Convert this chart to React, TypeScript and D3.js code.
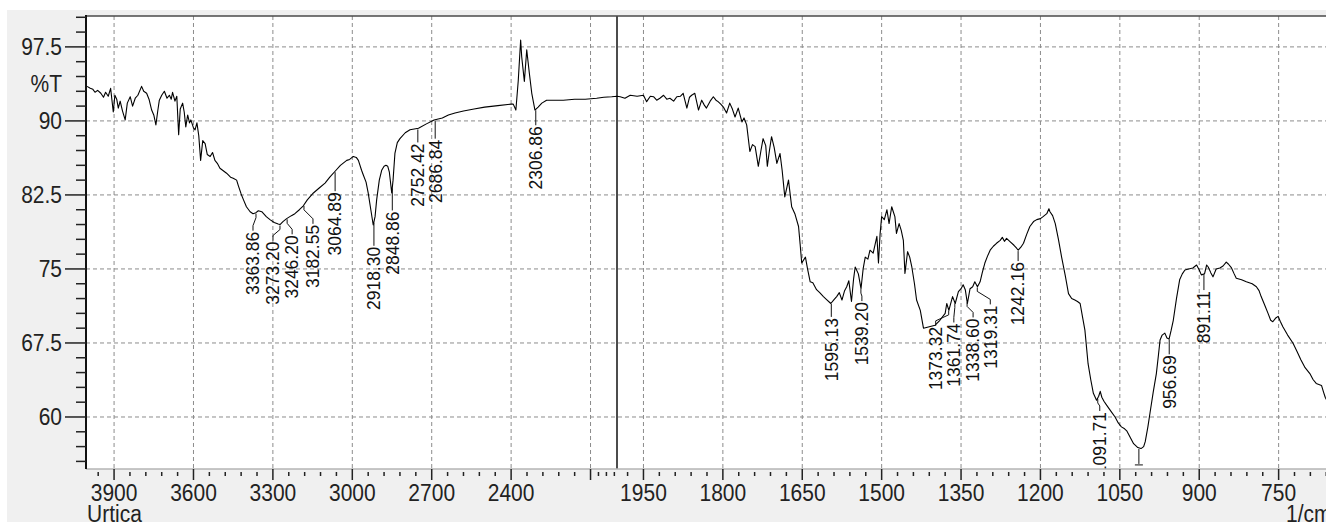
import React from 'react';
import * as d3 from 'd3';

// spectrum: [wavenumber 1/cm, %T]
const spectrum: [number, number][] = [
    [4002, 93.5], [3990, 93.3], [3980, 93.2], [3972, 92.9], [3962, 93.1], [3950, 92.8], [3940, 92.4],
    [3932, 92.9], [3922, 92.5], [3913, 93.3], [3903, 90.9], [3897, 92.6], [3890, 92.2], [3884, 91.3],
    [3877, 92.0], [3868, 91.0], [3858, 90.1], [3850, 91.8], [3839, 92.45], [3830, 91.5], [3820, 92.3],
    [3810, 92.6], [3796, 93.5], [3788, 93.0], [3777, 92.8], [3768, 92.2], [3758, 91.1], [3750, 90.6],
    [3742, 89.6], [3735, 91.0], [3729, 92.1], [3720, 92.6], [3710, 93.0], [3700, 92.3], [3691, 92.6],
    [3684, 92.2], [3679, 92.9], [3670, 92.0], [3663, 92.5], [3656, 88.6], [3650, 91.2], [3641, 91.8],
    [3635, 90.9], [3629, 89.4], [3622, 90.6], [3615, 89.8], [3610, 90.1], [3600, 89.3], [3594, 89.1],
    [3587, 89.8], [3580, 88.5], [3573, 86.0], [3565, 88.0], [3556, 87.7], [3548, 86.6], [3537, 86.4],
    [3528, 86.8], [3519, 86.0], [3510, 85.7], [3500, 85.2], [3490, 85.0], [3475, 84.7], [3460, 84.3],
    [3450, 84.2], [3437, 84.0], [3430, 83.4], [3420, 82.6], [3411, 82.0], [3400, 81.3], [3386, 80.8],
    [3375, 80.6], [3364, 80.7], [3355, 80.9], [3342, 80.8], [3325, 80.3], [3311, 80.0], [3295, 79.7],
    [3280, 79.55], [3273, 79.5], [3262, 79.8], [3248, 80.1], [3230, 80.4], [3217, 80.6], [3200, 81.0],
    [3185, 81.4], [3170, 82.0], [3147, 82.7], [3125, 83.2], [3103, 83.7], [3085, 84.3], [3065, 84.9],
    [3045, 85.5], [3021, 86.0], [3010, 86.1], [2996, 86.4], [2985, 86.3], [2977, 86.0], [2965, 85.0],
    [2958, 84.5], [2948, 83.8], [2940, 82.7], [2930, 81.0], [2921, 79.45], [2914, 80.3], [2908, 82.0],
    [2898, 84.0], [2889, 85.0], [2880, 85.4], [2873, 85.5], [2866, 85.4], [2860, 84.8], [2851, 82.7],
    [2846, 84.0], [2839, 86.7], [2830, 87.8], [2820, 88.2], [2800, 88.8], [2782, 89.1], [2750, 89.25],
    [2720, 89.7], [2691, 90.1], [2660, 90.3], [2637, 90.6], [2612, 90.8], [2580, 91.0], [2540, 91.2],
    [2500, 91.4], [2450, 91.55], [2400, 91.7], [2392, 91.7], [2382, 91.1], [2373, 94.1], [2364, 98.2],
    [2360, 96.5], [2356, 95.5], [2350, 94.0], [2341, 97.2], [2336, 96.0], [2331, 94.8], [2322, 92.8],
    [2310, 91.1], [2298, 91.4], [2284, 91.8], [2266, 92.1], [2240, 92.1], [2203, 92.1], [2160, 92.2],
    [2120, 92.2], [2077, 92.3], [2050, 92.4], [2020, 92.45], [2000, 92.5],
    [1994, 92.45], [1985, 92.3], [1975, 92.6], [1962, 92.5], [1950, 92.6], [1944, 91.95], [1937, 92.5],
    [1931, 92.45], [1925, 92.1], [1919, 92.3], [1912, 92.6], [1906, 92.2], [1900, 92.3], [1893, 92.0],
    [1887, 92.45], [1880, 92.5], [1875, 92.8], [1868, 91.3], [1863, 92.4], [1859, 92.6], [1853, 92.8],
    [1846, 91.1], [1840, 92.1], [1835, 91.6], [1831, 91.3], [1824, 92.0], [1818, 92.45], [1813, 92.1],
    [1809, 91.95], [1804, 91.7], [1799, 91.4], [1793, 90.8], [1787, 91.8], [1782, 91.2], [1777, 90.4],
    [1771, 91.3], [1764, 89.9], [1760, 90.3], [1755, 89.6], [1749, 86.9], [1744, 87.6], [1739, 87.4],
    [1733, 85.4], [1728, 87.0], [1724, 88.2], [1719, 87.5], [1716, 85.4], [1712, 87.0], [1708, 88.4],
    [1703, 87.3], [1698, 85.7], [1692, 86.7], [1688, 85.0], [1683, 82.3], [1676, 84.0], [1670, 81.3],
    [1664, 80.6], [1657, 79.3], [1654, 77.5], [1651, 75.6], [1644, 76.2], [1640, 75.0], [1635, 73.7],
    [1630, 73.6], [1623, 72.9], [1617, 72.6], [1610, 72.2], [1604, 71.9], [1596, 71.5], [1590, 71.9],
    [1585, 72.2], [1580, 72.6], [1575, 71.85], [1570, 72.8], [1566, 73.2], [1562, 73.8], [1557, 71.7],
    [1553, 74.0], [1550, 75.2], [1544, 74.5], [1539, 73.0], [1535, 75.0], [1531, 76.2], [1526, 76.0],
    [1522, 76.9], [1516, 76.6], [1509, 78.3], [1506, 75.6], [1503, 78.5], [1500, 80.3], [1495, 80.0],
    [1490, 81.0], [1486, 79.6], [1481, 81.3], [1478, 80.8], [1475, 80.3], [1472, 78.6], [1467, 79.6],
    [1463, 78.9], [1459, 77.9], [1456, 74.55], [1451, 76.75], [1447, 76.2], [1443, 75.2], [1438, 73.5],
    [1434, 71.85], [1427, 70.8], [1421, 69.0], [1399, 69.3], [1390, 69.8], [1380, 70.5], [1377, 71.5],
    [1373, 70.8], [1371, 71.2], [1366, 72.2], [1361, 71.5], [1355, 72.7], [1350, 73.0], [1346, 73.4],
    [1342, 72.9], [1338, 71.5], [1333, 73.0], [1328, 73.2], [1324, 73.7], [1319, 73.2], [1314, 73.7],
    [1310, 74.6], [1305, 75.6], [1300, 76.3], [1295, 76.9], [1289, 77.3], [1283, 77.6], [1276, 77.9],
    [1272, 78.2], [1268, 77.8], [1264, 78.1], [1258, 77.8], [1250, 77.4], [1245, 77.1], [1242, 76.9],
    [1237, 77.2], [1232, 77.6], [1226, 78.5], [1220, 79.3], [1213, 79.8], [1207, 80.0], [1200, 80.1],
    [1195, 80.3], [1188, 80.6], [1184, 81.1], [1182, 80.8], [1177, 80.4], [1172, 79.6], [1166, 78.0],
    [1160, 76.2], [1153, 74.3], [1147, 72.5], [1141, 72.0], [1135, 71.85], [1130, 71.7], [1125, 71.5],
    [1120, 70.0], [1116, 68.8], [1110, 65.4], [1105, 63.8], [1100, 62.4], [1094, 61.7], [1090, 62.1],
    [1087, 62.6], [1084, 62.0], [1080, 61.6], [1075, 61.2], [1067, 60.6], [1059, 60.0], [1053, 59.4],
    [1047, 59.0], [1041, 58.8], [1037, 58.6], [1030, 57.9], [1024, 57.3], [1016, 56.9], [1010, 56.8],
    [1005, 57.0], [1002, 57.5], [997, 59.0], [993, 60.4], [987, 62.5], [981, 64.4], [977, 66.3],
    [974, 67.8], [970, 68.3], [965, 68.5], [961, 68.0], [957, 67.9], [953, 68.8], [949, 69.8],
    [943, 72.0], [937, 73.9], [932, 74.5], [927, 74.9], [920, 75.0], [912, 75.1], [905, 75.4],
    [900, 74.9], [896, 74.4], [890, 74.5], [886, 75.4], [883, 75.2], [878, 74.6], [874, 74.2],
    [868, 75.0], [861, 75.1], [855, 75.3], [849, 75.7], [845, 75.5], [839, 75.1], [834, 74.5],
    [830, 74.05], [820, 73.9], [811, 73.7], [800, 73.5], [792, 73.2], [787, 72.8], [783, 72.2],
    [776, 71.3], [770, 70.5], [765, 69.8], [761, 69.65], [756, 70.0], [751, 70.2], [747, 69.7],
    [742, 69.15], [733, 68.3], [723, 67.5], [715, 66.6], [708, 65.8], [700, 65.0], [691, 64.4],
    [685, 63.8], [679, 63.4], [674, 63.3], [669, 63.2], [665, 62.5], [662, 62.0], [658, 61.6],
];

const peakLabels = [
    '3363.86', '3273.20', '3246.20', '3182.55', '3064.89', '2918.30', '2848.86', '2752.42', '2686.84',
    '2306.86', '1595.13', '1539.20', '1373.32', '1361.74', '1338.60', '1319.31', '1242.16', '1091.71',
    '956.69', '891.11',
];
const hiddenPeaks = [1014];

const yMajor = [60, 67.5, 75, 82.5, 90, 97.5];
const yMinor = [55.5, 57, 58.5, 61.5, 63, 64.5, 66, 69, 70.5, 72, 73.5, 76.5, 78, 79.5, 81, 84, 85.5, 87,
    88.5, 91.5, 93, 94.5, 96, 99, 100.5];
const xMajorLeft = [3900, 3600, 3300, 3000, 2700, 2400, 2100];
const xLabelsLeft = [3900, 3600, 3300, 3000, 2700, 2400];
const xMinorLeft = [3960, 3840, 3780, 3720, 3660, 3540, 3480, 3420, 3360, 3240, 3180, 3120, 3060, 2940,
    2880, 2820, 2760, 2640, 2580, 2520, 2460, 2340, 2280, 2220, 2160, 2070, 2040, 2010];
const xMajorRight = [1950, 1800, 1650, 1500, 1350, 1200, 1050, 900, 750];
const xMinorRight = d3.range(1980, 650, -30).filter(v => !xMajorRight.includes(v));

// layout nudges for the peak labels [dx, dy] in px (collision avoidance as in the original)
const labelNudge: Record<string, [number, number]> = {
    '3363.86': [-3, 2], '3273.20': [-7, 0], '3246.20': [5, 0], '3182.55': [9, 3], '3064.89': [0, 4],
    '2918.30': [0, 8], '2848.86': [0, 7], '2752.42': [0, -2], '2686.84': [0, 3], '1595.13': [0, -2],
    '1539.20': [1, -3], '1373.32': [-13, 0], '1361.74': [-1, 4], '1338.60': [6, 0], '1319.31': [13, 2],
    '1242.16': [0, -5], '1091.71': [2, -3],
};

const W = 1326;
const H = 522;
const plot = { left: 86, top: 16, bottom: 469, right: W };
const BREAK = 2000;

const xLeft = d3.scaleLinear().domain([4000, BREAK]).range([87.6, 617]);
const xRight = d3.scaleLinear().domain([BREAK, 650]).range([617, 617 + 1350 * 0.5293]);
const xPos = (wn: number) => (wn >= BREAK ? xLeft(wn) : xRight(wn));
const y = d3.scaleLinear().domain([54.73, 100.63]).range([plot.bottom, plot.top]);

const interpT = (wn: number) => {
    for (let i = 0; i < spectrum.length - 1; i++) {
        const [a, ta] = spectrum[i];
        const [b, tb] = spectrum[i + 1];
        if (wn <= a && wn >= b) return ta + ((a - wn) / (a - b)) * (tb - ta);
    }
    return spectrum[spectrum.length - 1][1];
};

const FONT = '"Liberation Sans", Arial, sans-serif';
const TICK_FS = 21;

export default function App() {
    const line = d3.line<[number, number]>()
        .x(d => xPos(d[0]))
        .y(d => y(d[1]));

    const grid = { stroke: '#8c8c8c', strokeWidth: 1, strokeDasharray: '4 3' };

    return (
        <svg width={W} height={H} style={{ position: 'absolute', left: 0, top: 0, fontFamily: FONT }}>
            <defs>
                <clipPath id="plot-clip">
                    <rect x={plot.left} y={plot.top} width={plot.right - plot.left} height={plot.bottom - plot.top} />
                </clipPath>
            </defs>
            <rect x={0} y={0} width={W} height={H} fill="#fff" />
            <rect x={7} y={10} width={W - 7} height={H - 10} fill="#f0f0f0" />
            <rect x={plot.left} y={plot.top} width={plot.right - plot.left} height={plot.bottom - plot.top} fill="#fff" />

            {/* grid */}
            {yMajor.map(v => (
                <line key={'gy' + v} x1={plot.left} x2={plot.right} y1={y(v)} y2={y(v)} {...grid} />
            ))}
            {xMajorLeft.map(v => (
                <line key={'gxl' + v} x1={xLeft(v)} x2={xLeft(v)} y1={plot.top} y2={plot.bottom} {...grid} />
            ))}
            {xMajorRight.map(v => (
                <line key={'gxr' + v} x1={xRight(v)} x2={xRight(v)} y1={plot.top} y2={plot.bottom} {...grid} />
            ))}

            {/* scale break at 2000 */}
            <line x1={xLeft(BREAK)} x2={xLeft(BREAK)} y1={plot.top} y2={plot.bottom} stroke="#111" strokeWidth={1.5} />

            <g clipPath="url(#plot-clip)">
                <path d={line(spectrum) || ''} fill="none" stroke="#000" strokeWidth={1.1} strokeLinejoin="round" />

                {peakLabels.map(lbl => {
                    const wn = parseFloat(lbl);
                    const px = xPos(wn);
                    const py = y(interpT(wn));
                    const [dx, dy] = labelNudge[lbl] || [0, 0];
                    const lx = px + dx;
                    const top = py + 17 + dy;
                    const d = dx === 0
                        ? `M${px},${py + 1}L${lx},${top - 1}`
                        : `M${px},${py + 1}L${px},${py + 5}L${lx},${top - 6}L${lx},${top - 1}`;
                    return (
                        <g key={lbl}>
                            <path d={d} fill="none" stroke="#111" strokeWidth={1} />
                            <text
                                transform={`translate(${lx},${top}) rotate(-90)`}
                                textAnchor="end"
                                dy="0.36em"
                                fontSize={17.5}
                                fill="#111"
                            >
                                {lbl}
                            </text>
                        </g>
                    );
                })}
                {hiddenPeaks.map(wn => {
                    const px = xPos(wn);
                    const py = y(interpT(wn));
                    return (
                        <g key={'h' + wn} stroke="#111" strokeWidth={1}>
                            <line x1={px} x2={px} y1={py + 1} y2={py + 16} />
                            <line x1={px - 4} x2={px + 4} y1={py + 17} y2={py + 17} />
                        </g>
                    );
                })}
            </g>

            {/* frame */}
            <line x1={plot.left} x2={plot.right} y1={plot.top} y2={plot.top} stroke="#4a4a4a" strokeWidth={1.5} />
            <line x1={plot.left} x2={plot.right} y1={plot.bottom} y2={plot.bottom} stroke="#b4b4b4" strokeWidth={1.5} />
            <line x1={plot.left} x2={plot.left} y1={plot.top - 1} y2={plot.bottom} stroke="#111" strokeWidth={2} />

            {/* y axis */}
            {yMajor.map(v => (
                <g key={'ty' + v}>
                    <line x1={65} x2={plot.left} y1={y(v)} y2={y(v)} stroke="#222" strokeWidth={1.5} />
                    <text
                        transform={`translate(62,${y(v) + 8.4}) scale(1,1.12)`}
                        textAnchor="end"
                        fontSize={TICK_FS}
                        fill="#222"
                    >
                        {v}
                    </text>
                </g>
            ))}
            {yMinor.map(v => (
                <line key={'my' + v} x1={76} x2={plot.left} y1={y(v)} y2={y(v)} stroke="#222" strokeWidth={1.5} />
            ))}
            <text transform="translate(62,92) scale(1,1.12)" textAnchor="end" fontSize={TICK_FS} fill="#222">%T</text>

            {/* x axis */}
            {[...xMajorLeft.map(xLeft), ...xMajorRight.map(xRight)].map((px, i) => (
                <line key={'tx' + i} x1={px} x2={px} y1={plot.bottom} y2={plot.bottom + 11} stroke="#222" strokeWidth={1.5} />
            ))}
            {[...xMinorLeft.map(xLeft), ...xMinorRight.map(xRight)].map((px, i) => (
                <line key={'mx' + i} x1={px} x2={px} y1={plot.bottom + 3} y2={plot.bottom + 7} stroke="#222" strokeWidth={1.5} />
            ))}
            {xLabelsLeft.map(v => (
                <text key={'lx' + v} transform={`translate(${xLeft(v)},501) scale(1,1.12)`} textAnchor="middle" fontSize={TICK_FS} fill="#222">
                    {v}
                </text>
            ))}
            {xMajorRight.map(v => (
                <text key={'lr' + v} transform={`translate(${xRight(v)},501) scale(1,1.12)`} textAnchor="middle" fontSize={TICK_FS} fill="#222">
                    {v}
                </text>
            ))}
            <text transform="translate(87,522) scale(1,1.12)" fontSize={TICK_FS} fill="#222">Urtica</text>
            <text transform="translate(1286,522) scale(1,1.12)" fontSize={TICK_FS} fill="#222">1/cm</text>
        </svg>
    );
}
